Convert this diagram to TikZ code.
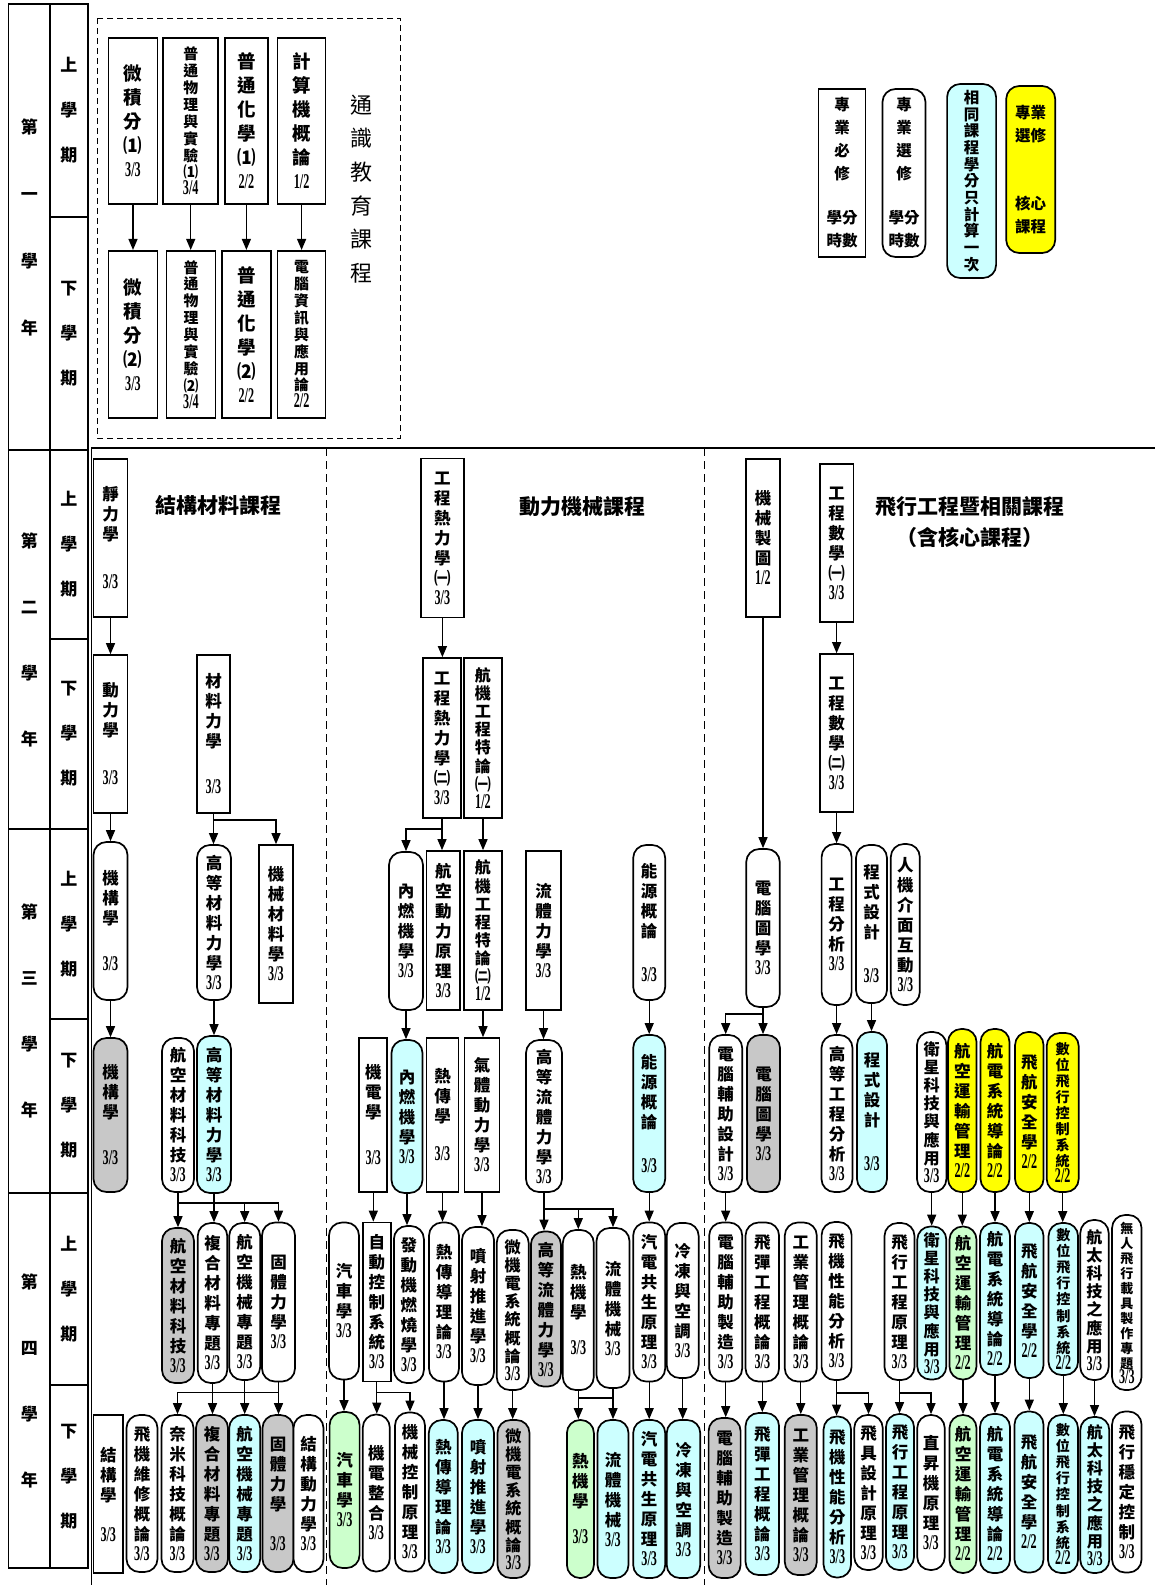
\documentclass[tikz,border=0pt]{standalone}
\usepackage{fontspec}
\usetikzlibrary{arrows.meta}
\newfontfamily\cjk{Noto Sans CJK TC}
\newfontfamily\numf[FakeStretch=0.58]{Liberation Serif}
\definecolor{samecyan}{HTML}{CCFFFF}
\definecolor{coreyellow}{HTML}{FFFF00}
\definecolor{greyfill}{HTML}{C8C8C8}
\definecolor{mintfill}{HTML}{CCFFCC}

% vertical (one character per line) course labels
\newcount\vtn
\newdimen\vtp \newdimen\vtfs \newdimen\vtav \newdimen\vtmx \newdimen\vtfmx
\vtav=145pt \vtmx=20pt \vtfmx=16.5pt
\def\vtcnt#1{\ifx#1\relax\else\advance\vtn by 1 \expandafter\vtcnt\fi}
\def\vtput#1{\ifx#1\relax\else\hbox to20pt{\hss#1\hss}\expandafter\vtput\fi}
\newcommand\vt[3][0pt]{%
  \vtn=1 \vtcnt#2\relax
  \vtp=\dimexpr\vtav/\vtn\relax
  \ifdim\vtp>\vtmx \vtp=\vtmx\fi
  \vtfs=\dimexpr\vtp-2pt\relax
  \ifdim\vtfs>\vtfmx \vtfs=\vtfmx\fi
  \vbox{\fontsize{\vtfs}{\vtp}\selectfont
    \baselineskip=\vtp\lineskiplimit=-\maxdimen
    \vtput#2\relax\vskip#1%
    \hbox to20pt{\hss\numf\fontsize{21pt}{\vtp}\selectfont#3\hss}}}
\newcommand\vsp[2]{\vbox{\baselineskip=#1\lineskiplimit=-\maxdimen\vtput#2\relax}}
\newcommand\lgA[5]{\vbox{\baselineskip=#1\lineskiplimit=-\maxdimen
  \vtput#2\relax\vskip#3\hbox to20pt{\hss#4\hss}\hbox to20pt{\hss#5\hss}}}
\newcommand\lgB[5]{\vbox{\baselineskip=23pt\lineskiplimit=-\maxdimen
  \hbox to20pt{\hss#1\hss}\hbox to20pt{\hss#2\hss}\vskip#3
  \hbox to20pt{\hss#4\hss}\hbox to20pt{\hss#5\hss}}}

\begin{document}
\begin{tikzpicture}[x=1pt, y=-1pt,
  >={Triangle[length=11pt,width=9pt]}, line width=1.3pt,
  course/.style={draw, line width=1.7pt, inner sep=0pt, fill=white, font=\cjk\bfseries},
  req/.style={course},
  elec/.style={course, rounded corners=13pt},
  dupe/.style={fill=samecyan},
  core/.style={fill=coreyellow},
  grayed/.style={fill=greyfill},
  mint/.style={fill=mintfill},
  wh/.style 2 args={minimum width=#1pt, minimum height=#2pt},
  gen/.style={execute at begin node={\vtav=152pt\vtmx=24pt\vtfmx=18.5pt}},
  av/.style={execute at begin node={\vtav=#1pt}},
  lgd/.style={font=\cjk\bfseries\fontsize{15.5pt}{17pt}\selectfont},
  cell/.style={draw, line width=1.5pt, inner sep=0pt, font=\cjk\bfseries\fontsize{17pt}{19pt}\selectfont},
  ttl/.style={font=\cjk\bfseries\fontsize{21pt}{31pt}\selectfont, align=center},
  divider/.style={dash pattern=on 8pt off 5pt, line width=1pt}
]
\path[use as bounding box, fill=white] (0,0) rectangle (1155,1585);

% year / semester column
\node[cell, wh={41.5}{446}] (yr1) at (29.3,227) {\vsp{67pt}{第一學年}};
\node[cell, wh={41.5}{379}] (yr2) at (29.3,639.5) {\vsp{66pt}{第二學年}};
\node[cell, wh={41.5}{364}] (yr3) at (29.3,1011) {\vsp{66pt}{第三學年}};
\node[cell, wh={41.5}{375}] (yr4) at (29.3,1380.5) {\vsp{66pt}{第四學年}};
\node[cell, wh={38}{213}] (sem1a) at (69,110.5) {\vsp{45pt}{上學期}};
\node[cell, wh={38}{233}] (sem1b) at (69,333.5) {\vsp{45pt}{下學期}};
\node[cell, wh={38}{189}] (sem2a) at (69,544.5) {\vsp{45pt}{上學期}};
\node[cell, wh={38}{190}] (sem2b) at (69,734) {\vsp{45pt}{下學期}};
\node[cell, wh={38}{190}] (sem3a) at (69,924) {\vsp{45pt}{上學期}};
\node[cell, wh={38}{174}] (sem3b) at (69,1106) {\vsp{45pt}{下學期}};
\node[cell, wh={38}{192}] (sem4a) at (69,1289) {\vsp{45pt}{上學期}};
\node[cell, wh={38}{183}] (sem4b) at (69,1476.5) {\vsp{45pt}{下學期}};

% frame and group dividers
\draw (91.7,1585) -- (91.7,448) -- (1155,448);
\draw[divider] (326,448) -- (326,1585);
\draw[divider] (704,448) -- (704,1585);
\draw[dash pattern=on 6pt off 4pt, line width=1pt] (97,18) rectangle (400,438);

% general education
\node[font=\cjk\fontsize{22pt}{26pt}\selectfont] (gentitle) at (361,189) {\vsp{33.6pt}{通識教育課程}};
\node[req, gen, wh={49}{166}] (calcA) at (133,121) {\vt{微積分⑴}{3/3}};
\node[req, gen, wh={55}{166}] (phyA) at (190.7,121) {\vt{普通物理與實驗⑴}{3/4}};
\node[req, gen, wh={43}{166}] (chemA) at (246.4,121) {\vt{普通化學⑴}{2/2}};
\node[req, gen, wh={48}{166}] (compA) at (301.6,121) {\vt{計算機概論}{1/2}};
\node[req, gen, wh={49}{167}] (calcB) at (133,334.3) {\vt{微積分⑵}{3/3}};
\node[req, gen, wh={49}{167}] (phyB) at (191,334.3) {\vt{普通物理與實驗⑵}{3/4}};
\node[req, gen, wh={49}{167}] (chemB) at (246.4,334.3) {\vt{普通化學⑵}{2/2}};
\node[req, gen, wh={48}{167}] (infoB) at (301.6,334.3) {\vt{電腦資訊與應用論}{2/2}};

% legend
\node[req, lgd, wh={47}{168}] (lgreq) at (842,173) {\lgA{23pt}{專業必修}{21pt}{學分}{時數}};
\node[elec, lgd, wh={43}{168}] (lgele) at (904,173) {\lgA{23pt}{專業選修}{21pt}{學分}{時數}};
\node[elec, dupe, lgd, wh={49}{194}] (lgdupe) at (971.6,181) {\vsp{16.7pt}{相同課程學分只計算一次}};
\node[elec, core, lgd, wh={49}{167}] (lgcore) at (1030.7,169.5) {\lgB{專業}{選修}{45pt}{核心}{課程}};

% group titles
\node[ttl] (tstruct) at (218,505) {結構材料課程};
\node[ttl] (tpower) at (582,507) {動力機械課程};
\node[ttl] (tflight) at (970,522) {飛行工程暨相關課程\\（含核心課程）};

% second year
\node[req, wh={34}{158}] (statics) at (110.5,538) {\vt[28pt]{靜力學}{3/3}};
\node[req, wh={42.7}{159}] (thermoA) at (442.4,538) {\vt{工程熱力學㈠}{3/3}};
\node[req, wh={34}{158}] (drawing) at (763,538) {\vt{機械製圖}{1/2}};
\node[req, wh={33.5}{158}] (emA) at (836.6,543) {\vt{工程數學㈠}{3/3}};
\node[req, wh={34}{158}] (dyn) at (110.5,734) {\vt[28pt]{動力學}{3/3}};
\node[req, wh={33}{158}] (mat) at (213.5,734) {\vt[26pt]{材料力學}{3/3}};
\node[req, wh={38}{160}] (thermoB) at (442,738) {\vt{工程熱力學㈡}{3/3}};
\node[req, wh={38}{160}] (aeroA) at (483,738) {\vt{航機工程特論㈠}{1/2}};
\node[req, wh={33.5}{158}] (emB) at (836.6,733) {\vt{工程數學㈡}{3/3}};

% third year, first semester
\node[elec, wh={34}{158}] (mech) at (110.5,921) {\vt[26pt]{機構學}{3/3}};
\node[elec, wh={34}{155}] (advmat) at (214,922.5) {\vt{高等材料力學}{3/3}};
\node[req, wh={34}{158}] (mechmat) at (276,924) {\vt{機械材料學}{3/3}};
\node[elec, wh={34}{158}] (ice) at (406,931) {\vt{內燃機學}{3/3}};
\node[req, wh={33.5}{159}] (aeropow) at (443.3,930.5) {\vt{航空動力原理}{3/3}};
\node[req, wh={38}{159}] (aeroB) at (483,930.5) {\vt{航機工程特論㈡}{1/2}};
\node[req, wh={35}{159}] (fluid) at (543.5,930.5) {\vt{流體力學}{3/3}};
\node[elec, wh={32}{155}] (energy) at (649.2,922.5) {\vt[24pt]{能源概論}{3/3}};
\node[elec, wh={33.5}{158}] (cg) at (763,928) {\vt{電腦圖學}{3/3}};
\node[elec, wh={30}{161}] (engan) at (836.6,924.5) {\vt{工程分析}{3/3}};
\node[elec, wh={31}{158}] (prog) at (871.5,924) {\vt[24pt]{程式設計}{3/3}};
\node[elec, wh={29}{161}] (hci) at (905.3,924.5) {\vt{人機介面互動}{3/3}};

% third year, second semester
\node[elec, grayed, wh={34}{154}] (mechG) at (110.5,1115) {\vt[26pt]{機構學}{3/3}};
\node[elec, wh={32}{154}] (aeromat) at (178,1115) {\vt{航空材料科技}{3/3}};
\node[elec, dupe, wh={34}{157}] (advmatC) at (214,1114.5) {\vt{高等材料力學}{3/3}};
\node[req, wh={28}{154}] (mecha) at (373.3,1115) {\vt[26pt]{機電學}{3/3}};
\node[elec, dupe, wh={31}{153}] (iceC) at (407,1116.5) {\vt{內燃機學}{3/3}};
\node[req, wh={32}{154}] (heat) at (442.5,1115) {\vt[18pt]{熱傳學}{3/3}};
\node[req, wh={35}{154}] (gasdyn) at (482,1115) {\vt{氣體動力學}{3/3}};
\node[elec, wh={36}{152}] (advfluid) at (544,1116) {\vt{高等流體力學}{3/3}};
\node[elec, dupe, wh={32}{157}] (energyC) at (649.2,1113.5) {\vt[24pt]{能源概論}{3/3}};
\node[elec, wh={33}{157}] (cad) at (725.7,1113.5) {\vt{電腦輔助設計}{3/3}};
\node[elec, grayed, wh={33}{157}] (cgG) at (763.5,1113.5) {\vt{電腦圖學}{3/3}};
\node[elec, wh={31}{157}] (adveng) at (837,1113.5) {\vt{高等工程分析}{3/3}};
\node[elec, dupe, wh={30}{160}] (progC) at (872,1112) {\vt[24pt]{程式設計}{3/3}};
\node[elec, wh={29.4}{160}] (sat) at (931.7,1112) {\vt{衛星科技與應用}{3/3}};
\node[elec, core, wh={28.5}{163}] (atmY) at (962.3,1110.5) {\vt{航空運輸管理}{2/2}};
\node[elec, core, wh={29}{163}] (aviY) at (995,1110.5) {\vt{航電系統導論}{2/2}};
\node[elec, core, wh={28.5}{160}] (safeY) at (1029.3,1112) {\vt{飛航安全學}{2/2}};
\node[elec, core, wh={32}{159}] (dfcY) at (1062.7,1112.5) {\vt{數位飛行控制系統}{2/2}};

% fourth year, first semester
\node[elec, grayed, wh={32}{155}] (aeromatG) at (178,1305.5) {\vt{航空材料科技}{3/3}};
\node[elec, wh={29.5}{160}] (compU) at (212.5,1303) {\vt{複合材料專題}{3/3}};
\node[elec, wh={31}{157}] (amechU) at (244.7,1301.5) {\vt{航空機械專題}{3/3}};
\node[elec, wh={33}{159}] (solidU) at (278.5,1302) {\vt{固體力學}{3/3}};
\node[elec, wh={30}{157}] (autoU) at (344,1301) {\vt{汽車學}{3/3}};
\node[req, wh={28}{159}] (ctrlsys) at (376.8,1302) {\vt{自動控制系統}{3/3}};
\node[elec, wh={30}{157}] (comb) at (408.9,1304.5) {\vt{發動機燃燒學}{3/3}};
\node[elec, wh={30}{159}] (htU) at (444,1302) {\vt{熱傳導理論}{3/3}};
\node[elec, wh={32}{158}] (jetU) at (478,1306) {\vt{噴射推進學}{3/3}};
\node[elec, wh={32}{160}] (memsU) at (512.7,1310) {\vt{微機電系統概論}{3/3}};
\node[elec, grayed, wh={30}{155}] (advfluidG) at (545.9,1309) {\vt{高等流體力學}{3/3}};
\node[elec, wh={31}{160}] (heU) at (578.3,1310) {\vt[16pt]{熱機學}{3/3}};
\node[elec, wh={33}{160}] (fmU) at (613,1308) {\vt{流體機械}{3/3}};
\node[elec, wh={32}{159}] (cogenU) at (649.2,1302) {\vt{汽電共生原理}{3/3}};
\node[elec, wh={32}{155}] (hvacU) at (682.7,1300.5) {\vt{冷凍與空調}{3/3}};
\node[elec, wh={33}{159}] (camU) at (725.7,1302) {\vt{電腦輔助製造}{3/3}};
\node[elec, wh={33.5}{159}] (missU) at (762.3,1302) {\vt{飛彈工程概論}{3/3}};
\node[elec, wh={32}{159}] (imU) at (800.8,1302) {\vt{工業管理概論}{3/3}};
\node[elec, wh={30}{158}] (perfU) at (836.6,1301) {\vt{飛機性能分析}{3/3}};
\node[elec, wh={30}{157}] (fltU) at (899.5,1301.5) {\vt{飛行工程原理}{3/3}};
\node[elec, dupe, wh={29}{153}] (satC) at (931.8,1303) {\vt{衛星科技與應用}{3/3}};
\node[elec, mint, wh={27}{153}] (atmG) at (963,1303) {\vt{航空運輸管理}{2/2}};
\node[elec, dupe, wh={30}{152}] (aviC) at (995,1299) {\vt{航電系統導論}{2/2}};
\node[elec, dupe, wh={28.5}{155}] (safeC) at (1029.3,1300.5) {\vt{飛航安全學}{2/2}};
\node[elec, dupe, wh={29.5}{152}] (dfcC) at (1063.3,1299) {\vt{數位飛行控制系統}{2/2}};
\node[elec, wh={28.4}{160}] (spaceU) at (1094.5,1300) {\vt{航太科技之應用}{3/3}};
\node[elec, av=165, wh={29.5}{175}] (uav) at (1126.8,1302.5) {\vt{無人飛行載具製作專題}{3/3}};

% fourth year, second semester
\node[req, wh={29.5}{158}] (struct) at (108.3,1494) {\vt[20pt]{結構學}{3/3}};
\node[elec, wh={31}{157}] (maint) at (142,1493.5) {\vt{飛機維修概論}{3/3}};
\node[elec, wh={32}{157}] (nano) at (177.5,1493.5) {\vt{奈米科技概論}{3/3}};
\node[elec, grayed, wh={32}{157}] (compG) at (212,1493.5) {\vt{複合材料專題}{3/3}};
\node[elec, dupe, wh={31}{157}] (amechC) at (244.7,1493.5) {\vt{航空機械專題}{3/3}};
\node[elec, grayed, wh={31}{157}] (solidG) at (278,1493.5) {\vt[20pt]{固體力學}{3/3}};
\node[elec, wh={30}{157}] (sdyn) at (308.5,1493.5) {\vt{結構動力學}{3/3}};
\node[elec, mint, wh={30}{156}] (autoG) at (344.6,1490) {\vt{汽車學}{3/3}};
\node[elec, wh={27}{157}] (mechaint) at (376.3,1493) {\vt{機電整合}{3/3}};
\node[elec, wh={30}{159}] (mctrl) at (410,1492) {\vt{機械控制原理}{3/3}};
\node[elec, dupe, wh={29}{153}] (htC) at (443.3,1496.5) {\vt{熱傳導理論}{3/3}};
\node[elec, dupe, wh={32}{153}] (jetC) at (478,1496.5) {\vt{噴射推進學}{3/3}};
\node[elec, grayed, wh={32}{158}] (memsG) at (513.5,1499) {\vt{微機電系統概論}{3/3}};
\node[elec, mint, wh={27}{158}] (heG) at (580.4,1499) {\vt[16pt]{熱機學}{3/3}};
\node[elec, dupe, wh={31}{158}] (fmC) at (613,1499) {\vt{流體機械}{3/3}};
\node[elec, dupe, wh={32}{158}] (cogenC) at (649.2,1499) {\vt{汽電共生原理}{3/3}};
\node[elec, dupe, wh={33.5}{158}] (hvacC) at (683.5,1499) {\vt{冷凍與空調}{3/3}};
\node[elec, grayed, wh={32}{160}] (camG) at (724.6,1498) {\vt{電腦輔助製造}{3/3}};
\node[elec, dupe, wh={33.5}{162}] (missC) at (762.3,1494) {\vt{飛彈工程概論}{3/3}};
\node[elec, grayed, wh={32}{160}] (imG) at (800.8,1495) {\vt{工業管理概論}{3/3}};
\node[elec, dupe, wh={27.5}{161}] (perfC) at (837.3,1497) {\vt{飛機性能分析}{3/3}};
\node[elec, wh={28.5}{155}] (fdes) at (868.5,1492.5) {\vt{飛具設計原理}{3/3}};
\node[elec, dupe, wh={28}{156}] (fltC) at (900,1492) {\vt{飛行工程原理}{3/3}};
\node[elec, wh={27.5}{155}] (heli) at (931,1492.5) {\vt{直昇機原理}{3/3}};
\node[elec, mint, wh={27}{158}] (atmG2) at (963,1494) {\vt{航空運輸管理}{2/2}};
\node[elec, dupe, wh={30}{159}] (aviC2) at (995,1493.5) {\vt{航電系統導論}{2/2}};
\node[elec, dupe, wh={29}{161}] (safeC2) at (1029,1492) {\vt{飛航安全學}{2/2}};
\node[elec, dupe, wh={30}{158}] (dfcC2) at (1063,1494) {\vt{數位飛行控制系統}{2/2}};
\node[elec, dupe, wh={29}{156}] (spaceC) at (1094.8,1495) {\vt{航太科技之應用}{3/3}};
\node[elec, wh={29.5}{161}] (stab) at (1126.8,1492) {\vt{飛行穩定控制}{3/3}};

% prerequisites: general education
\draw[->] (calcA) -- (calcA |- calcB.north);
\draw[->] (phyA) -- (phyA |- phyB.north);
\draw[->] (chemA) -- (chemA |- chemB.north);
\draw[->] (compA) -- (compA |- infoB.north);

% prerequisites: second year
\draw[->] (statics) -- (statics |- dyn.north);
\draw[->] (thermoA) -- (thermoA |- thermoB.north);
\draw[->] (emA) -- (emA |- emB.north);
\draw[->] (drawing) -- (drawing |- cg.north);

% second year -> third year
\draw[->] (dyn) -- (dyn |- mech.north);
\draw[->] (mat) -- (mat |- advmat.north);
\draw[->] (mat.south) ++(0,6) -| (mechmat.north);
\draw[->] (thermoB) -- (thermoB |- aeropow.north);
\draw[->] (thermoB.south) ++(0,10) -| (ice.north);
\draw[->] (aeroA) -- (aeroA |- aeroB.north);
\draw[->] (emB) -- (emB |- engan.north);

% third year
\draw[->] (mech) -- (mech |- mechG.north);
\draw[->] (advmat) -- (advmat |- advmatC.north);
\draw[->] (ice) -- (ice |- iceC.north);
\draw[->] (aeroB) -- (aeroB |- gasdyn.north);
\draw[->] (fluid) -- (fluid |- advfluid.north);
\draw[->] (energy) -- (energy |- energyC.north);
\draw[->] (cg) -- (cg |- cgG.north);
\draw[->] (cg.south) ++(0,6) -| (cad.north);
\draw[->] (engan) -- (engan |- adveng.north);
\draw[->] (prog) -- (prog |- progC.north);

% third year -> fourth year
\draw[->] (aeromat) -- (aeromat |- aeromatG.north);
\draw[->] (advmatC) -- (advmatC |- compU.north);
\draw[->] (aeromat.south) ++(0,10) -| (amechU.north);
\draw[->] (aeromat.south) ++(0,10) -| (solidU.north);
\draw[->] (mecha) -- (mecha |- ctrlsys.north);
\draw[->] (iceC) -- (iceC |- comb.north);
\draw[->] (heat) -- (heat |- htU.north);
\draw[->] (gasdyn) -- (gasdyn |- jetU.north);
\draw[->] (advfluid) -- (advfluid |- advfluidG.north);
\draw[->] (advfluid.south) ++(0,16) -| (heU.north);
\draw[->] (advfluid.south) ++(0,16) -| (fmU.north);
\draw[->] (energyC) -- (energyC |- cogenU.north);
\draw[->] (cad) -- (cad |- camU.north);
\draw[->] (sat) -- (sat |- satC.north);
\draw[->] (atmY) -- (atmY |- atmG.north);
\draw[->] (aviY) -- (aviY |- aviC.north);
\draw[->] (safeY) -- (safeY |- safeC.north);
\draw[->] (dfcY) -- (dfcY |- dfcC.north);

% fourth year
\draw[->] (compU) -- (compU |- compG.north);
\draw[->] (amechU) -- (amechU |- amechC.north);
\draw[->] (solidU) -- (solidU |- solidG.north);
\draw[->] (solidU.south) ++(0,10) -| (nano.north);
\draw[->] (autoU) -- (autoU |- autoG.north);
\draw[->] (ctrlsys) -- (ctrlsys |- mechaint.north);
\draw[->] (ctrlsys.south) ++(0,10) -| (mctrl.north);
\draw[->] (htU) -- (htU |- htC.north);
\draw[->] (jetU) -- (jetU |- jetC.north);
\draw[->] (memsU) -- (memsU |- memsG.north);
\draw[->] (heU) -- (heU |- heG.north);
\draw[->] (fmU) -- (fmU |- fmC.north);
\path (heU.south) ++(0,7) coordinate (hebar);
\draw (hebar) -- (hebar -| fmU);
\draw[->] (cogenU) -- (cogenU |- cogenC.north);
\draw[->] (hvacU) -- (hvacU |- hvacC.north);
\draw[->] (camU) -- (camU |- camG.north);
\draw[->] (missU) -- (missU |- missC.north);
\draw[->] (imU) -- (imU |- imG.north);
\draw[->] (perfU) -- (perfU |- perfC.north);
\draw[->] (perfU.south) ++(0,12) -| (fdes.north);
\draw[->] (fltU) -- (fltU |- fltC.north);
\draw[->] (fltU.south) ++(0,12) -| (heli.north);
\draw[->] (atmG) -- (atmG |- atmG2.north);
\draw[->] (aviC) -- (aviC |- aviC2.north);
\draw[->] (safeC) -- (safeC |- safeC2.north);
\draw[->] (dfcC) -- (dfcC |- dfcC2.north);
\draw[->] (spaceU) -- (spaceU |- spaceC.north);
\end{tikzpicture}
\end{document}
